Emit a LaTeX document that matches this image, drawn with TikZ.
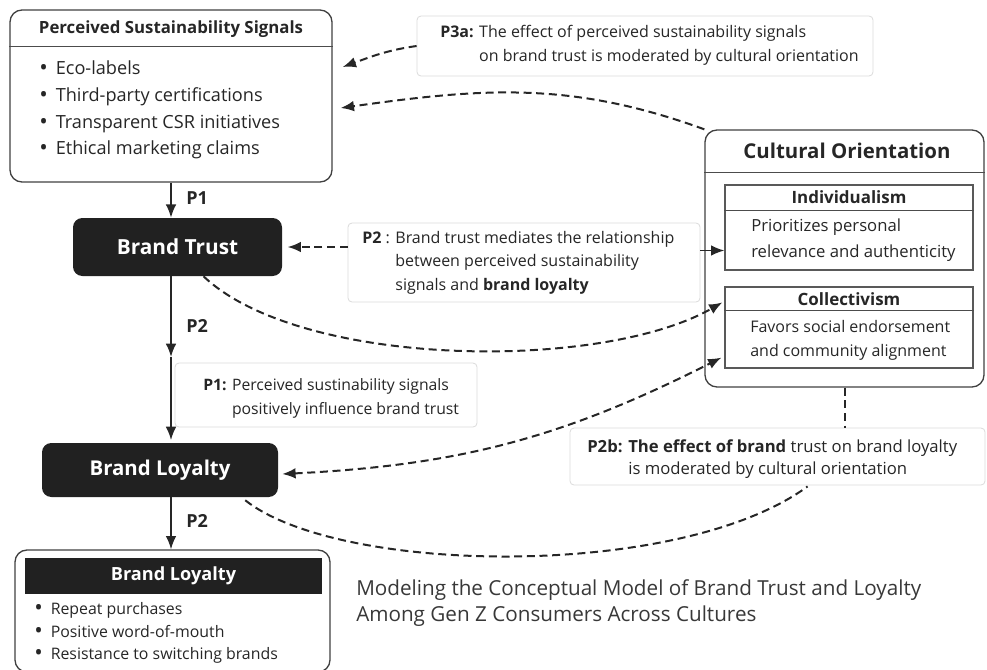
\documentclass[tikz,border=0pt]{standalone}
\usepackage{fontspec}
\setmainfont{Open Sans}
\usetikzlibrary{arrows.meta,fit,calc}

\newcommand{\fs}[2]{\fontsize{#1}{#2}\selectfont}
\newcommand{\bul}{\raisebox{-0.12ex}{\fontsize{17}{17}\selectfont\textbullet}\hspace{6pt}}

\tikzset{
  frame/.style={draw=black!75, line width=1pt, rounded corners=9pt, inner sep=0pt},
  subframe/.style={draw=black!65, line width=0.9pt, inner sep=0pt},
  darkbox/.style={fill=black!87, rounded corners=7pt, inner sep=0pt, text=white},
  note/.style={draw=black!14, fill=white, line width=0.6pt, rounded corners=3pt, inner sep=0pt},
  sepline/.style={draw=black!70, line width=0.8pt},
  flow/.style={line width=1.3pt, black!85, -{Latex[length=10pt,width=8pt]}},
  dashline/.style={line width=1.5pt, black!85, dash pattern=on 6pt off 3.5pt},
  link/.style={dashline, -{Latex[length=10pt,width=8pt]}},
  linkboth/.style={dashline, {Latex[length=10pt,width=8pt]}-{Latex[length=10pt,width=8pt]}},
  plabel/.style={font=\bfseries\fs{13.5}{16}, text=black!85, anchor=west, inner sep=0pt},
  txt/.style={inner sep=0pt, text=black!85},
}

\begin{document}
\begin{tikzpicture}[x=0.75pt, y=-0.75pt]
\useasboundingbox (0,0) rectangle (987,669);

% sustainability signals
\node[frame, fit={(10,10) (332,182)}] (pss) {};
\draw[sepline] ($(pss.north west)+(0,37)$) -- ($(pss.north east)+(0,37)$);
\node[txt, font=\bfseries\fs{12.6}{15}] (pssHead) at (171,29) {Perceived Sustainability Signals};
\node[txt, anchor=west, align=left, font=\fs{13.6}{20}] (pssList) at (39,110)
  {\bul Eco-labels\\
   \bul Third-party certifications\\
   \bul Transparent CSR initiatives\\
   \bul Ethical marketing claims};

% main chain
\node[darkbox, minimum width=156.75pt, minimum height=43.5pt, font=\bfseries\fs{15.6}{18}] (trust) at (177.5,247) {Brand Trust};
\node[darkbox, minimum width=177pt, minimum height=40.5pt, font=\bfseries\fs{15.3}{18}] (loyal) at (160,470) {Brand Loyalty};

\node[frame, fit={(15,550) (330,672)}] (outcome) {};
\node[fill=black!87, minimum width=222.75pt, minimum height=27pt, inner sep=0pt, text=white, font=\bfseries\fs{13.6}{16}] (outHead) at (173.5,576) {Brand Loyalty};
\node[txt, anchor=west, align=left, font=\fs{11.9}{17}] (outList) at (34,633)
  {\bul Repeat purchases\\
   \bul Positive word-of-mouth\\
   \bul Resistance to switching brands};

\coordinate (p2tip) at (171,357);
\draw[flow] (pss.south) -- (pss.south |- trust.north);
\node[plabel] (p1a) at (186,198) {P1};
\draw[flow] (pss.south |- trust.south) -- (p2tip);
\node[plabel] (p2a) at (186,326) {P2};
\draw[flow, shorten >=2pt] (p2tip) -- (p2tip |- loyal.north);
\draw[flow] (pss.south |- loyal.south) -- (pss.south |- outcome.north);
\node[plabel] (p2c) at (186,521) {P2};

% cultural orientation
\node[frame, fit={(705,130) (984,387)}] (cult) {};
\draw[sepline] ($(cult.north west)+(0,43)$) -- ($(cult.north east)+(0,43)$);
\node[txt, font=\bfseries\fs{15.3}{18}] (cultHead) at (847,151) {Cultural Orientation};
\node[subframe, fit={(725,185) (973,270)}] (indiv) {};
\draw[sepline] ($(indiv.north west)+(0,26)$) -- ($(indiv.north east)+(0,26)$);
\node[txt, font=\bfseries\fs{12.7}{15}] (indivHead) at (849,197) {Individualism};
\node[txt, anchor=west, align=left, font=\fs{12.5}{19}] (indivText) at (751,240) {Prioritizes personal\\relevance and authenticity};
\node[subframe, fit={(725,287) (973,368)}] (collect) {};
\draw[sepline] ($(collect.north west)+(0,24)$) -- ($(collect.north east)+(0,24)$);
\node[txt, font=\bfseries\fs{12.7}{15}] (collectHead) at (849,299) {Collectivism};
\node[txt, anchor=west, align=left, font=\fs{12}{18}] (collectText) at (750,340) {Favors social endorsement\\and community alignment};

% propositions
\node[note, fit={(417,16) (873,76)}] (p3a) {};
\node[txt, anchor=west, font=\fs{12}{18}] (p3aText) at (440,45)
  {\textbf{P3a:} \begin{tabular}[t]{@{}l@{}}The effect of perceived sustainability signals\\on brand trust is moderated by cultural orientation\end{tabular}};
\node[note, fit={(348,223) (700,302)}] (p2note) {};
\node[txt, anchor=west, font=\fs{12}{17.5}] (p2Text) at (362,262)
  {\textbf{P2} : \begin{tabular}[t]{@{}l@{}}Brand trust mediates the relationship\\between perceived sustainability\\signals and \textbf{brand loyalty}\end{tabular}};
\node[note, fit={(175,363) (477,427)}] (p1note) {};
\node[txt, anchor=west, font=\fs{11.8}{18}] (p1Text) at (203,398)
  {\textbf{P1:} \begin{tabular}[t]{@{}l@{}}Perceived sustinability signals\\positively influence brand trust\end{tabular}};
\node[note, fit={(570,428) (985,485)}] (p2b) {};
\node[txt, anchor=west, font=\fs{12.5}{16.5}] (p2bText) at (587,459)
  {\textbf{P2b:} \begin{tabular}[t]{@{}l@{}}\textbf{The effect of brand} trust on brand loyalty\\is moderated by cultural orientation\end{tabular}};

\node[txt, anchor=west, align=left, font=\fs{15.5}{19}, text=black!78] (title) at (356,603)
  {Modeling the Conceptual Model of Brand Trust and Loyalty\\Among Gen Z Consumers Across Cultures};

% dashed links
\draw[link] (p3a.west) to[out=188, in=20] ($(pss.east)+(10,-29)$);
\draw[link] (cult.north west) to[out=160, in=8] ($(pss.east)+(8,12)$);
\draw[link, shorten >=4pt] (p2note.west |- trust.east) -- (trust.east);
\draw[flow] ($(p2note.east)+(0,-12)$) -- ($(p2note.east -| indiv.west)+(0,-12)$);
\draw[link] ($(trust.south)+(26,0)$) .. controls (300,368) and (600,372) .. ($(collect.north west)+(-2,16)$);
\draw[linkboth] ($(loyal.east)+(4,4)$) to[bend right=12] ($(collect.south west)+(-3,-11)$);
\draw[dashline] (cult.south) -- (cult.south |- p2b.north);
\draw[dashline] ($(loyal.south east)+(-33,3)$) .. controls (340,575) and (680,580) .. ($(p2b.south west)+(238,1)$);
\end{tikzpicture}
\end{document}
